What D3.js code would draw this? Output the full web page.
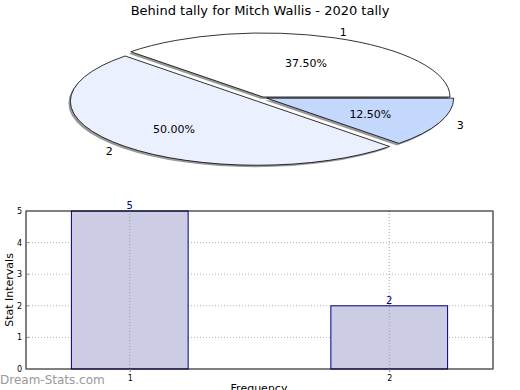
<!DOCTYPE html>
<html>
<head>
<meta charset="utf-8">
<script src="https://cdn.jsdelivr.net/npm/d3@7"></script>
<style>
  body { margin: 0; background: #fff; }
  svg { font-family: "DejaVu Sans", sans-serif; }
</style>
</head>
<body>
<svg width="520" height="390"></svg>
<script>
// data
const sliceNames = ["1", "2", "3"];
const sliceCounts = [3, 4, 1];
const sliceColors = ["#ffffff", "#eaf0fd", "#c4d8fe"];
const barCats = [1, 2];
const barValues = [5, 2];
const yTicks = [0, 1, 2, 3, 4, 5];

const svg = d3.select("svg");

// title
svg.append("text")
   .attr("x", 260)
   .attr("y", 15)
   .attr("text-anchor", "middle")
   .attr("font-size", "13px")
   .attr("fill", "#000")
   .text("Behind tally for Mitch Wallis - 2020 tally");

// ---- pie (squashed into an ellipse) ----
const cx = 263, cy = 97, rx = 187, ry = 64;
const k = ry / rx;
const explode = [0, 8, 4];

const pie = d3.pie().sort(null)
   .startAngle(Math.PI / 2)
   .endAngle(Math.PI / 2 - 2 * Math.PI);
const arcs = pie(sliceCounts);
const arc = d3.arc().innerRadius(0).outerRadius(rx);

// mid angle in d3 convention -> screen offset
function offset(d, i) {
  const mid = (d.startAngle + d.endAngle) / 2;
  const e = explode[i];
  return [e * Math.sin(mid), -e * Math.cos(mid) * 0.75];
}

const pieG = svg.append("g");
// shadows
pieG.selectAll("path.shadow")
   .data(arcs)
   .join("path")
   .attr("class", "shadow")
   .attr("d", arc)
   .attr("transform", (d, i) => {
     const o = offset(d, i);
     return `translate(${cx + o[0] - 2},${cy + o[1] + 2}) scale(1,${k})`;
   })
   .attr("fill", "#999");
// slices
pieG.selectAll("path.slice")
   .data(arcs)
   .join("path")
   .attr("class", "slice")
   .attr("d", arc)
   .attr("transform", (d, i) => {
     const o = offset(d, i);
     return `translate(${cx + o[0]},${cy + o[1]}) scale(1,${k})`;
   })
   .attr("fill", (d, i) => sliceColors[i])
   .attr("stroke", "#000")
   .attr("stroke-width", 0.8)
   .attr("vector-effect", "non-scaling-stroke");

// percent labels and outer labels
const total = d3.sum(sliceCounts);
arcs.forEach((d, i) => {
  const mid = (d.startAngle + d.endAngle) / 2;
  const o = offset(d, i);
  const px = cx + o[0] + Math.sin(mid) * rx * 0.6;
  const py = cy + o[1] - Math.cos(mid) * ry * 0.6;
  svg.append("text")
     .attr("x", px - (i === 1 ? 4 : 0))
     .attr("y", py + 5)
     .attr("text-anchor", "middle")
     .attr("font-size", "11px")
     .text((d.data / total * 100).toFixed(2) + "%");
  const lx = cx + o[0] + Math.sin(mid) * rx * 1.12;
  const ly = cy + o[1] - Math.cos(mid) * ry * 1.1;
  svg.append("text")
     .attr("x", lx)
     .attr("y", ly + 4)
     .attr("text-anchor", "middle")
     .attr("font-size", "11px")
     .text(sliceNames[i]);
});

// ---- bar chart ----
const plotL = 26, plotR = 493, plotT = 211, plotB = 369;
const x = d3.scaleLinear().domain([0.6, 2.4]).range([plotL, plotR]);
const y = d3.scaleLinear().domain([0, 5]).range([plotB, plotT]);
const barW = 0.45;

// grid
svg.append("g").selectAll("line")
   .data(yTicks.slice(1, -1))
   .join("line")
   .attr("x1", plotL).attr("x2", plotR)
   .attr("y1", d => y(d)).attr("y2", d => y(d))
   .attr("stroke", "#b0b0b0")
   .attr("stroke-dasharray", "1,2");

// bars
svg.append("g").selectAll("rect")
   .data(barValues)
   .join("rect")
   .attr("x", (d, i) => x(barCats[i] - barW / 2))
   .attr("y", d => y(d))
   .attr("width", (d, i) => x(barCats[i] + barW / 2) - x(barCats[i] - barW / 2))
   .attr("height", d => y(0) - y(d))
   .attr("fill", "#cccce5")
   .attr("stroke", "#000080")
   .attr("stroke-width", 1);

// vertical grid on top of bars
svg.append("g").selectAll("line")
   .data(barCats)
   .join("line")
   .attr("x1", d => x(d)).attr("x2", d => x(d))
   .attr("y1", plotT).attr("y2", plotB)
   .attr("stroke", "#a0a0a0")
   .attr("stroke-dasharray", "1,2");

// frame
svg.append("rect")
   .attr("x", plotL).attr("y", plotT)
   .attr("width", plotR - plotL).attr("height", plotB - plotT)
   .attr("fill", "none")
   .attr("stroke", "#000")
   .attr("stroke-width", 1);

// axes
const yAxis = d3.axisLeft(y).tickValues(yTicks).tickFormat(d3.format("d")).tickSize(0).tickPadding(4);
svg.append("g")
   .attr("transform", `translate(${plotL},0)`)
   .call(yAxis)
   .call(g => g.select(".domain").remove())
   .call(g => g.selectAll("text").attr("font-size", "8px").attr("font-family", "DejaVu Sans, sans-serif"));

// small tick marks
svg.append("g").selectAll("line")
   .data(yTicks)
   .join("line")
   .attr("x1", plotR - 3).attr("x2", plotR)
   .attr("y1", d => y(d)).attr("y2", d => y(d))
   .attr("stroke", "#888");
svg.append("g").selectAll("line")
   .data(yTicks)
   .join("line")
   .attr("x1", plotL).attr("x2", plotL + 3)
   .attr("y1", d => y(d)).attr("y2", d => y(d))
   .attr("stroke", "#888");

const xAxis = d3.axisBottom(x).tickValues(barCats).tickFormat(d3.format("d")).tickSize(3).tickPadding(3);
svg.append("g")
   .attr("transform", `translate(0,${plotB})`)
   .call(xAxis)
   .call(g => g.select(".domain").remove())
   .call(g => g.selectAll("line").attr("stroke", "#888"))
   .call(g => g.selectAll("text").attr("font-size", "8px").attr("font-family", "DejaVu Sans, sans-serif"));

// value labels
svg.append("g").selectAll("text")
   .data(barValues)
   .join("text")
   .attr("x", (d, i) => x(barCats[i]))
   .attr("y", d => y(d) - 2)
   .attr("text-anchor", "middle")
   .attr("font-size", "10px")
   .attr("fill", "#000080")
   .text(d => d);

// axis titles
svg.append("text")
   .attr("transform", `translate(13,${(plotT + plotB) / 2}) rotate(-90)`)
   .attr("text-anchor", "middle")
   .attr("font-size", "11px")
   .text("Stat Intervals");

svg.append("text")
   .attr("x", 259)
   .attr("y", 392)
   .attr("text-anchor", "middle")
   .attr("font-size", "11px")
   .text("Frequency");

// watermark
svg.append("text")
   .attr("x", 0)
   .attr("y", 384)
   .attr("font-size", "12px")
   .attr("fill", "#999")
   .text("Dream-Stats.com");
</script>
</body>
</html>
